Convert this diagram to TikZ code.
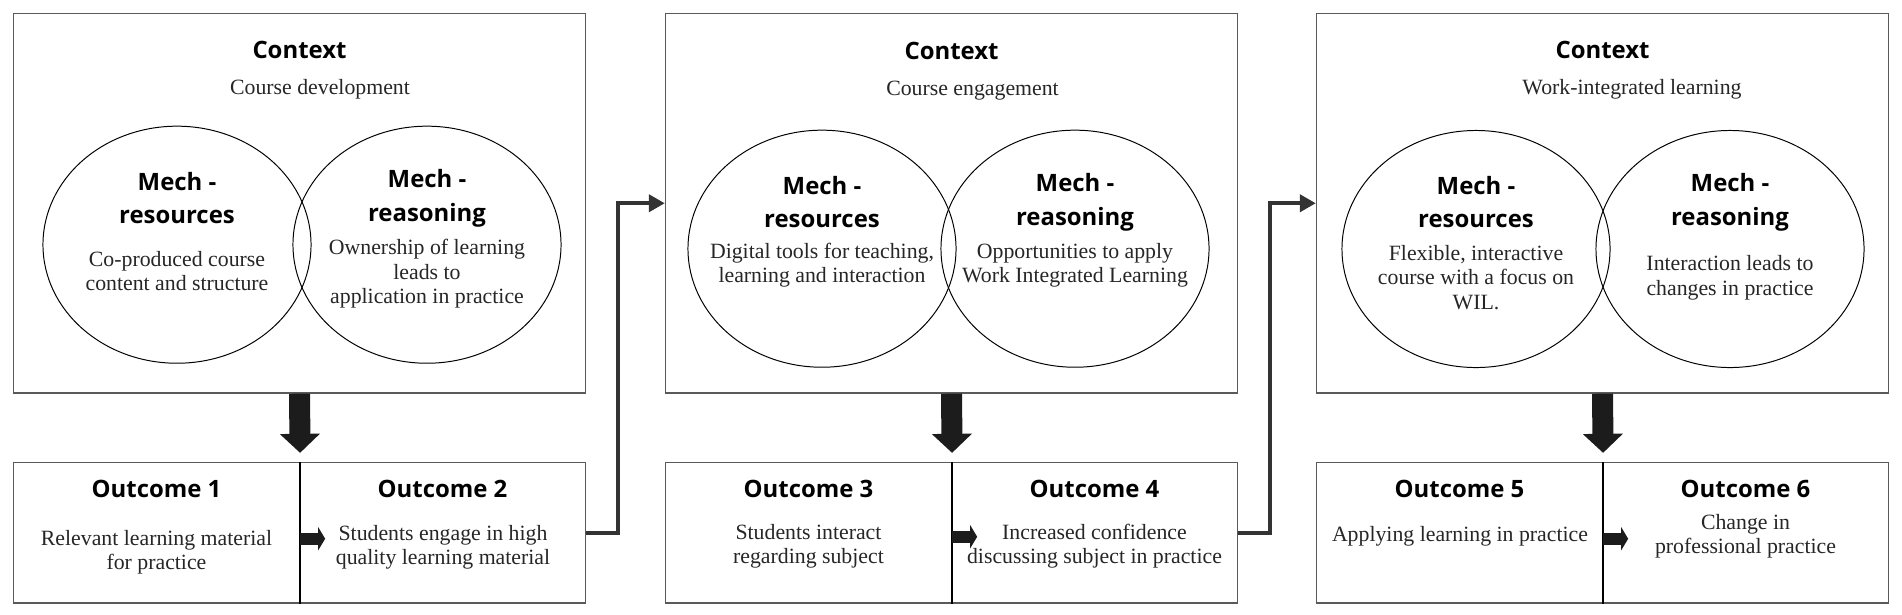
\documentclass[tikz,border=0pt]{standalone}
\usepackage{fontspec}
\setmainfont{Liberation Serif}
\newfontfamily\headfont{Open Sans}
\usetikzlibrary{arrows.meta, shapes.geometric}

\definecolor{boxgray}{HTML}{5A5A5A}
\definecolor{linkgray}{HTML}{333333}
\definecolor{arrowblack}{HTML}{1C1C1C}

\begin{document}
\begin{tikzpicture}[x=0.025cm, y=-0.025cm,
    ctxbox/.style={draw=boxgray, line width=0.9pt, minimum width=14.3cm, minimum height=9.4875cm, inner sep=0pt},
    outbox/.style={draw=boxgray, line width=0.9pt, minimum width=7.15cm, minimum height=3.5125cm, inner sep=0pt},
    mechcircle/.style={draw=black, ellipse, line width=0.7pt, minimum width=6.7cm, minimum height=5.925cm, inner sep=0pt},
    headtext/.style={font=\headfont\bfseries\fontsize{17}{24}\selectfont, align=center, inner sep=0pt},
    bodytext/.style={font=\fontsize{15.5}{17.3}\selectfont, align=center, inner sep=0pt, text=black!85},
    splitline/.style={draw=black, line width=1.6pt},
    downarrow/.style={draw=arrowblack, line width=0.525cm, -{Triangle[length=0.475cm, width=0.975cm]}, shorten >=0.225cm},
    nextarrow/.style={draw=arrowblack, line width=0.3cm, -{Triangle[length=0.175cm, width=0.575cm]}},
    loopline/.style={draw=linkgray, line width=0.1cm, -{Triangle[length=0.4cm, width=0.425cm]}}]

    \useasboundingbox (0,0) rectangle (1902,614);

    % Context boxes
    \node[ctxbox] (ctx1) at (299.5,203.25) {};
    \node[ctxbox] (ctx2) at (951.5,203.25) {};
    \node[ctxbox] (ctx3) at (1602.5,203.25) {};

    \node[headtext] (ctx1t) at (299.5,50) {Context};
    \node[bodytext] (ctx1s) at (320,89.5) {Course development};
    \node[headtext] (ctx2t) at (951.5,50.5) {Context};
    \node[bodytext] (ctx2s) at (972.5,90.5) {Course engagement};
    \node[headtext] (ctx3t) at (1602.5,49.5) {Context};
    \node[bodytext] (ctx3s) at (1632,89.5) {Work-integrated learning};

    % Mechanism circles, panel 1
    \node[mechcircle] (res1) at (177,244.7) {};
    \node[mechcircle] (rea1) at (427,244.7) {};
    \node[headtext] at (177,198) {Mech -\\resources};
    \node[headtext] at (427,198) {Mech -\\reasoning};
    \node[bodytext] at (177,271) {Co-produced course\\content and structure};
    \node[bodytext] at (427,273.8) {Ownership of learning\\leads to\\application in practice};

    % Mechanism circles, panel 2
    \node[mechcircle] (res2) at (822,248.7) {};
    \node[mechcircle] (rea2) at (1075,248.7) {};
    \node[headtext] at (822,202) {Mech -\\resources};
    \node[headtext] at (1075,202) {Mech -\\reasoning};
    \node[bodytext] at (822,265.3) {Digital tools for teaching,\\learning and interaction};
    \node[bodytext] at (1075,265.3) {Opportunities to apply\\Work Integrated Learning};

    % Mechanism circles, panel 3
    \node[mechcircle] (res3) at (1476,249) {};
    \node[mechcircle] (rea3) at (1730,249) {};
    \node[headtext] at (1476,202) {Mech -\\resources};
    \node[headtext] at (1730,202) {Mech -\\reasoning};
    \node[bodytext] at (1476,277.5) {Flexible, interactive\\course with a focus on\\WIL.};
    \node[bodytext] at (1730,277.8) {Interaction leads to\\changes in practice};

    % Outcome boxes
    \node[outbox] (out1) at (156.5,532.75) {};
    \node[outbox] (out2) at (442.5,532.75) {};
    \node[outbox] (out3) at (808.5,532.75) {};
    \node[outbox] (out4) at (1094.5,532.75) {};
    \node[outbox] (out5) at (1459.5,532.75) {};
    \node[outbox] (out6) at (1745.5,532.75) {};

    \node[headtext] at (156.5,489) {Outcome 1};
    \node[bodytext] at (156.5,552) {Relevant learning material\\for practice};
    \node[headtext] at (442.5,489) {Outcome 2};
    \node[bodytext] at (443,547) {Students engage in high\\quality learning material};
    \node[headtext] at (808.5,489) {Outcome 3};
    \node[bodytext] at (808.5,546) {Students interact\\regarding subject};
    \node[headtext] at (1094.5,489) {Outcome 4};
    \node[bodytext] at (1094.5,546) {Increased confidence\\discussing subject in practice};
    \node[headtext] at (1459.5,489) {Outcome 5};
    \node[bodytext] at (1460,536.6) {Applying learning in practice};
    \node[headtext] at (1745.5,489) {Outcome 6};
    \node[bodytext] at (1745.5,536.5) {Change in\\professional practice};

    % Dividers between outcomes
    \draw[splitline] (out1.north east) -- (out1.south east);
    \draw[splitline] (out3.north east) -- (out3.south east);
    \draw[splitline] (out5.north east) -- (out5.south east);

    % Block arrows
    \draw[downarrow] (ctx1.south) -- (out1.north east);
    \draw[downarrow] (ctx2.south) -- (out3.north east);
    \draw[downarrow] (ctx3.south) -- (out5.north east);

    \draw[nextarrow] ([yshift=-0.15cm]out1.east) -- ++(25,0);
    \draw[nextarrow] ([yshift=-0.1cm]out3.east) -- ++(25,0);
    \draw[nextarrow] ([yshift=-0.15cm]out5.east) -- ++(25,0);

    % Links to the next context
    \draw[loopline] (out2.east) -- ++(32,0) |- (ctx2.west);
    \draw[loopline] (out4.east) -- ++(32,0) |- (ctx3.west);
\end{tikzpicture}
\end{document}
